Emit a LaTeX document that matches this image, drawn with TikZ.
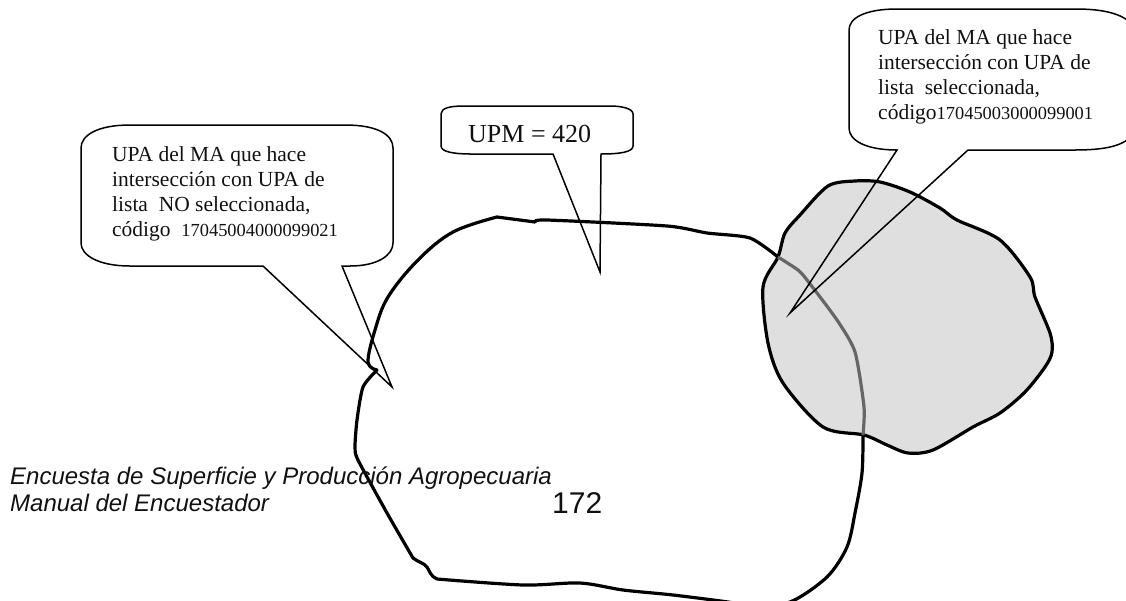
\documentclass[tikz,border=0pt]{standalone}
\usepackage{fontspec}
\setmainfont{Liberation Serif}
\newfontfamily\arialf{Liberation Sans}
\tikzset{
  x=1pt,y=-1pt,
  blob/.style={line width=3.2pt,line join=round,line cap=round},
  greypart/.style={line width=3.2pt,draw=graypart,line join=round},
  bubble/.style={line width=1.5pt,line join=miter,draw=black},
  bubbletext/.style={anchor=north west,inner sep=0pt,align=left,text=txt,font=\fontsize{21.5}{25}\selectfont},
  foot/.style={anchor=base west,inner sep=0pt,font=\arialf\itshape\fontsize{24}{26}\selectfont,text=txt}
}
\definecolor{graypart}{HTML}{666666}
\definecolor{greyfill}{HTML}{DFDFDF}
\definecolor{txt}{HTML}{111111}
\begin{document}
\begin{tikzpicture}
\useasboundingbox (0,0) rectangle (1126,600);
\clip (0,0) rectangle (1126,600);
% grey blob
\path[fill=greyfill,draw=black,blob] plot[smooth cycle,tension=0.5] coordinates {
(778,257) (785,233) (800,215) (828,186) (855,181) (880,182) (910,192) (940,208) (957,220)
(1000,240) (1030,277) (1035,297) (1050,333) (1052,352) (1045,367) (1025,392) (1000,413)
(973,427) (933,450) (908,453) (887,445) (864,435) (823,427) (783,383) (768,343) (763,287)};
% large area, black part
\draw[blob] plot[smooth,tension=0.5] coordinates {
(863,435) (862,473) (855,513) (847,547) (827,577) (790,602) (750,606) (728,602) (673,595) (623,590) (580,583)
(523,585) (437,579)};
\draw[blob] (437,579) .. controls (431,577) and (429,570) .. (427,567) .. controls (424,563) and (418,562) .. (413,558);
\draw[blob] plot[smooth,tension=0.4] coordinates {
(413,558) (387,513) (358,460) (355,447) (357,420) (363,387) (377,370)};
\draw[blob] plot[smooth,tension=0.6] coordinates {
(377,370) (368,362) (375,330) (388,297) (418,260) (453,232) (497,217)};
\draw[blob] (497,217) -- (535,222);
\draw[blob] plot[smooth,tension=0.4] coordinates {
(535,222) (547,220) (667,226) (707,233) (750,238) (778,257)};
% large area, grey part inside the grey blob
\draw[greypart] plot[smooth,tension=0.4] coordinates {
(778,257) (798,270) (807,280) (837,320) (855,352) (864,407) (863,435)};
% middle callout
\draw[bubble] (553,154) -- (600,272) -- (601,154) .. controls (620,154) and (633,152) .. (633,146)
 -- (633,114) .. controls (633,108) and (620,106) .. (610,106) -- (464,106)
 .. controls (450,106) and (441,108) .. (441,114) -- (441,146) .. controls (441,152) and (455,154) .. (470,154) -- cycle;
\node[anchor=base west,inner sep=0pt,text=txt,font=\fontsize{26}{30}\selectfont] (upm) at (468,142) {UPM = 420};
% left callout
\draw[bubble] (263,266) -- (392,387) -- (342,266) -- (350,266) .. controls (378,266) and (393,255) .. (393,243)
 -- (393,148) .. controls (393,135) and (378,125) .. (345,125) -- (130,125)
 .. controls (98,125) and (81,135) .. (81,148) -- (81,243) .. controls (81,255) and (98,266) .. (130,266) -- cycle;
\node[bubbletext] (lefttext) at (112,146) {UPA del MA que hace\\intersección con UPA de\\lista\ \ NO seleccionada,\\código\ \ {\fontsize{18.4}{25}\selectfont 17045004000099021}};
% right callout
\draw[bubble] (897,150) -- (790,313) -- (968,150) -- (1075,150) .. controls (1105,150) and (1120,146) .. (1130,138)
 -- (1130,22) .. controls (1120,14) and (1105,9) .. (1075,9) -- (897,9)
 .. controls (865,9) and (849,18) .. (849,30) -- (849,128) .. controls (849,140) and (865,150) .. cycle;
\node[bubbletext] (righttext) at (878,29) {UPA del MA que hace\\intersección con UPA de\\lista\ \ seleccionada,\\código{\fontsize{18.4}{25}\selectfont 17045003000099001}};
% footer
\node[foot] (f1) at (10,484) {Encuesta de Superficie y Producción Agropecuaria};
\node[foot] (f2) at (10,511) {Manual del Encuestador};
\node[anchor=base west,inner sep=0pt,text=txt,font=\arialf\fontsize{30}{36}\selectfont] (page) at (552,513) {172};
\end{tikzpicture}
\end{document}
